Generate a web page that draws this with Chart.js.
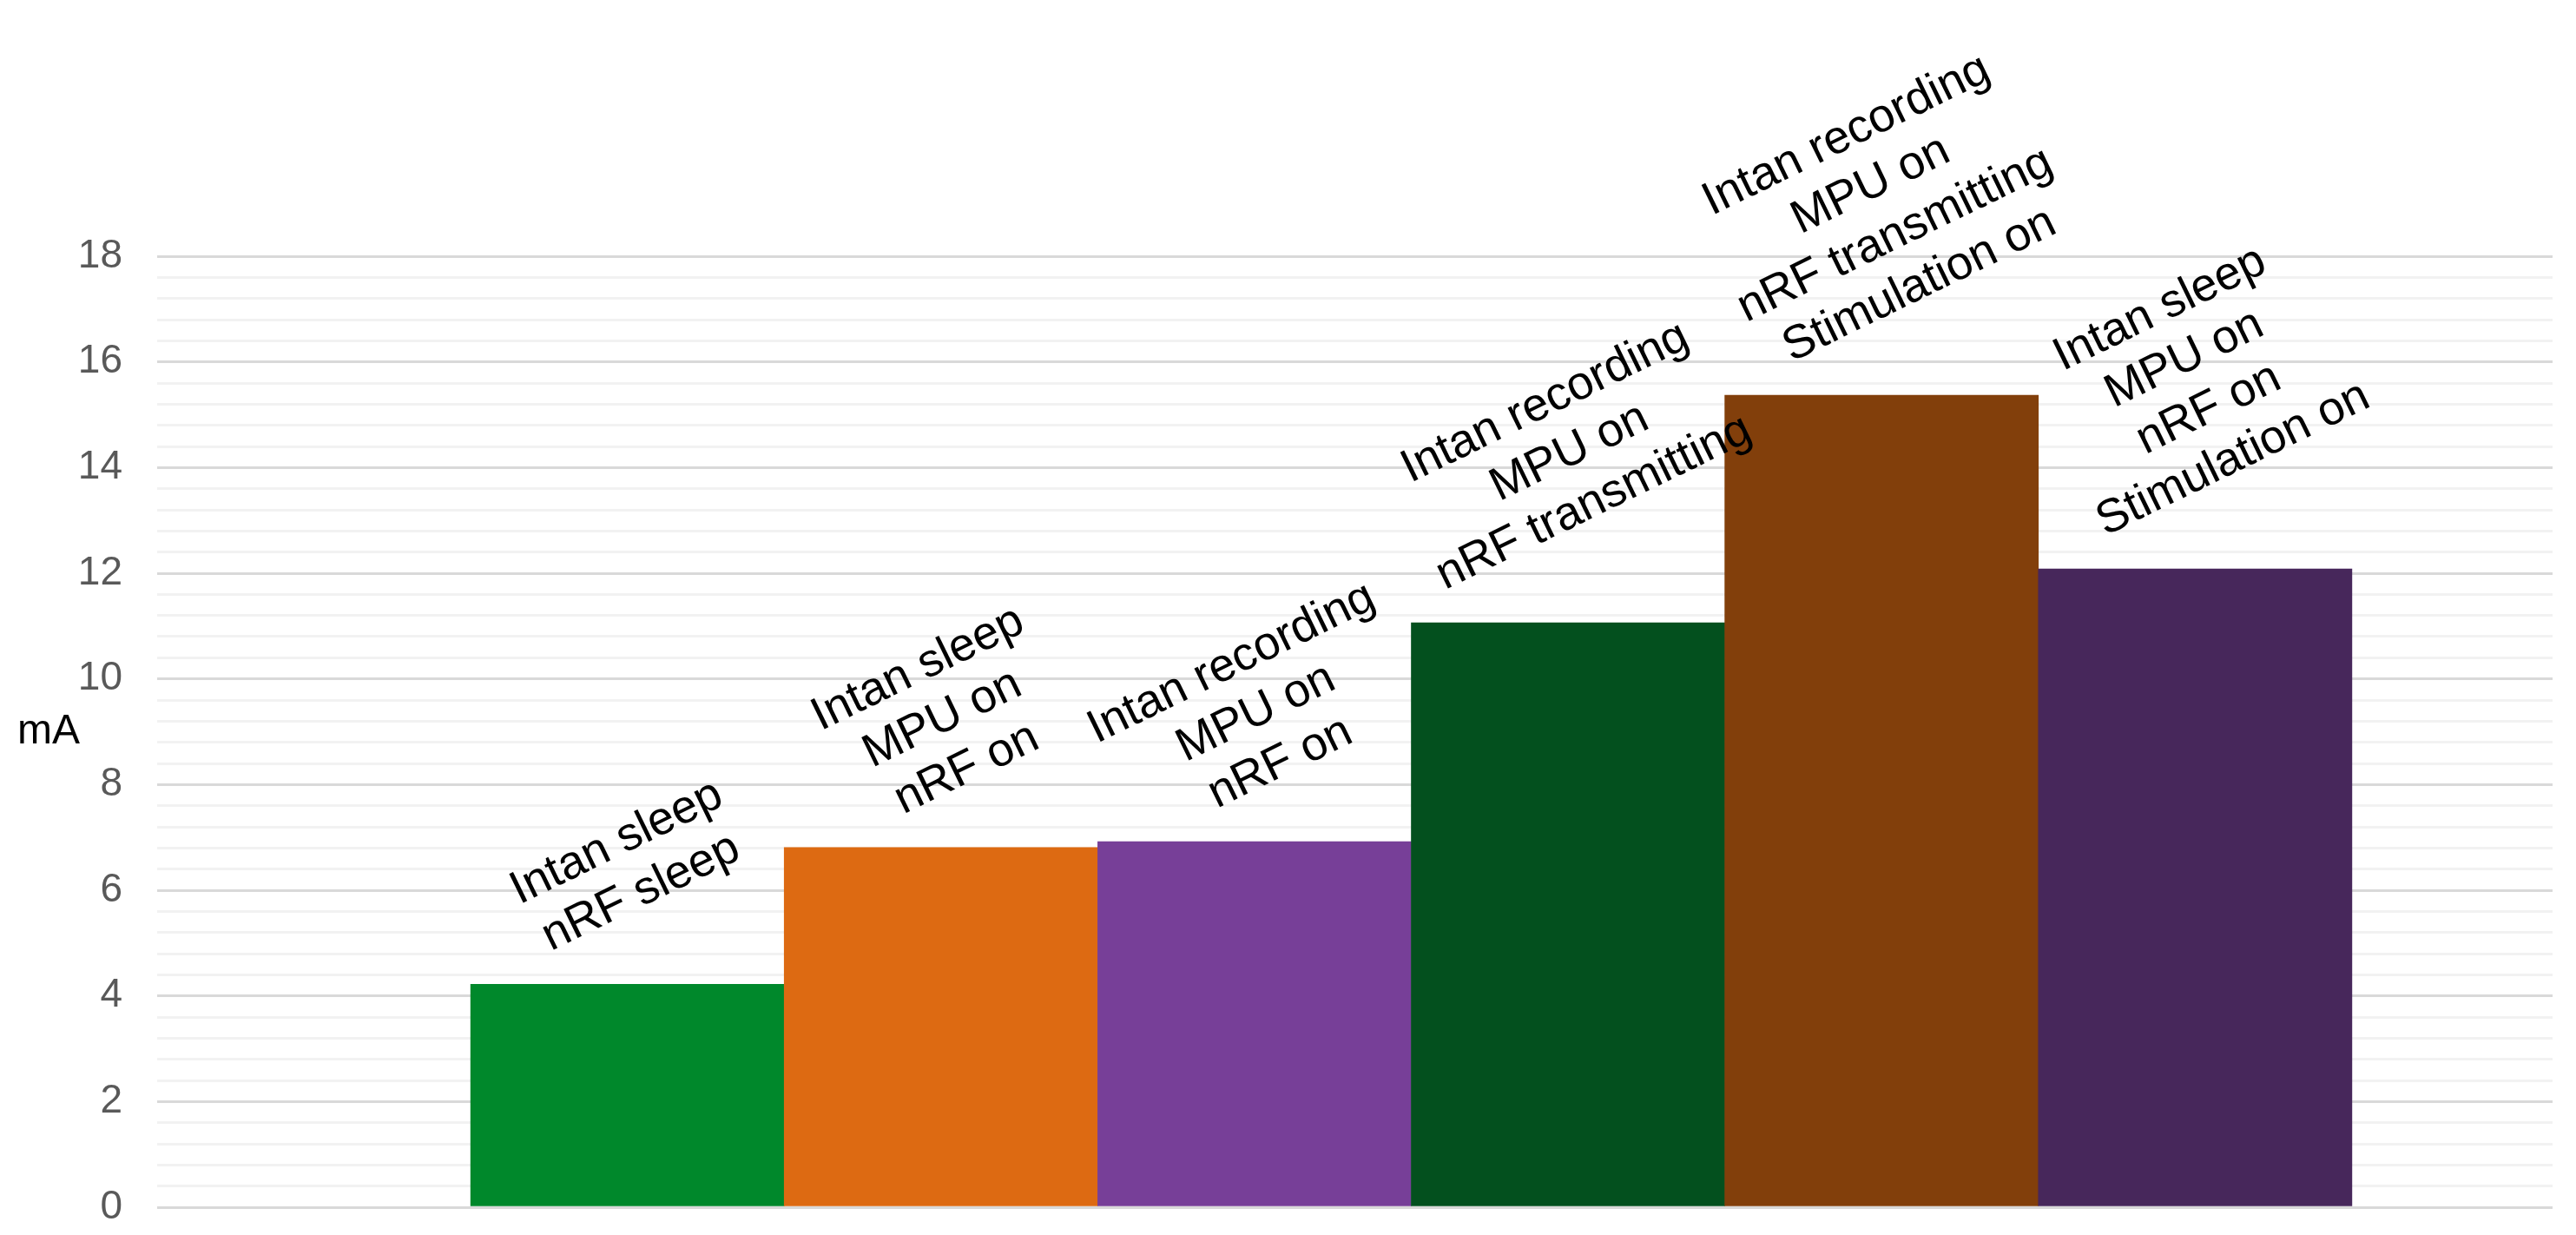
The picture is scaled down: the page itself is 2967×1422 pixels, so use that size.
<!DOCTYPE html>
<html>
<head>
<meta charset="utf-8">
<title>Current consumption</title>
<script src="https://cdn.jsdelivr.net/npm/chart.js@4.4.1/dist/chart.umd.min.js"></script>
<style>
  html, body { margin: 0; padding: 0; background: #fff; }
  #wrap { width: 2967px; height: 1422px; position: relative; }
</style>
</head>
<body>
<div id="wrap"><canvas id="chart"></canvas></div>
<script>
// modos de funcionamiento (una barra por modo)
const categories = [
  ['Intan sleep', 'nRF sleep'],
  ['Intan sleep', 'MPU on', 'nRF on'],
  ['Intan recording', 'MPU on', 'nRF on'],
  ['Intan recording', 'MPU on', 'nRF transmitting'],
  ['Intan recording', 'MPU on', 'nRF transmitting', 'Stimulation on'],
  ['Intan sleep', 'MPU on', 'nRF on', 'Stimulation on'],
];
const currentMA = [4.22, 6.81, 6.92, 11.06, 15.37, 12.08];
const barColors = ['#00882b', '#dd6a12', '#773f98', '#03501e', '#823f0b', '#47275b'];
const yMax = 18;
const yMajorStep = 2;
const yMinorStep = 0.4;
const yTitle = 'mA';

const isMajor = (v) => Math.abs(v / yMajorStep - Math.round(v / yMajorStep)) < 1e-6;

// --- etiquetas giradas encima de cada barra ---
// se apoyan sobre la barra por el punto mas bajo del texto girado
const barLabels = {
  id: 'barLabels',
  afterDatasetsDraw(chart) {
    const { ctx } = chart;
    const meta = chart.getDatasetMeta(0);
    const fontSize = 54;
    const ang = 26 * Math.PI / 180;
    const lh = 64;
    const gap = 38;
    const base = fontSize * 0.35;
    const sin = Math.sin(ang);
    const cos = Math.cos(ang);
    ctx.save();
    ctx.font = fontSize + 'px "Liberation Sans", Arial, sans-serif';
    ctx.fillStyle = '#000';
    ctx.textAlign = 'center';
    ctx.textBaseline = 'alphabetic';
    meta.data.forEach((bar, i) => {
      const lines = categories[i];
      const n = lines.length;
      const yb = lines.map((l, j) => (j - (n - 1) / 2) * lh + base);
      const lowest = Math.max(...lines.map((l, j) => (ctx.measureText(l).width / 2) * sin + yb[j] * cos));
      const cy = bar.y - gap - lowest;
      ctx.save();
      ctx.translate(bar.x, cy);
      ctx.rotate(-ang);
      lines.forEach((l, j) => ctx.fillText(l, 0, yb[j]));
      ctx.restore();
    });
    ctx.restore();
  },
};

// --- titulo del eje Y en horizontal ---
const yAxisTitle = {
  id: 'yAxisTitle',
  afterDraw(chart) {
    const { ctx, chartArea } = chart;
    ctx.save();
    ctx.font = '48px "Liberation Sans", Arial, sans-serif';
    ctx.fillStyle = '#000';
    ctx.textAlign = 'left';
    ctx.textBaseline = 'alphabetic';
    ctx.fillText(yTitle, 20, (chartArea.top + chartArea.bottom) / 2 + 13);
    ctx.restore();
  },
};

new Chart(document.getElementById('chart'), {
  type: 'bar',
  data: {
    datasets: [
      {
        data: currentMA.map((v, i) => ({ x: i + 1.5, y: v })),
        backgroundColor: barColors,
        borderWidth: 0,
        barPercentage: 1,
        categoryPercentage: 1,
      },
    ],
  },
  options: {
    responsive: true,
    maintainAspectRatio: false,
    animation: false,
    devicePixelRatio: 1,
    layout: {
      padding: { top: 295, right: 27, bottom: 32, left: 0 },
    },
    plugins: {
      legend: { display: false },
      tooltip: { enabled: false },
    },
    scales: {
      x: {
        type: 'linear',
        display: false,
        offset: false,
        min: 0,
        max: 7.64,
        ticks: { stepSize: 1 },
        // solo ticks enteros, si no el ancho de barra se reduce
        afterBuildTicks(scale) {
          scale.ticks = scale.ticks.filter((t) => Number.isInteger(t.value));
        },
      },
      y: {
        min: 0,
        max: yMax,
        border: { display: false },
        grid: {
          drawTicks: false,
          lineWidth: 3,
          color: (c) => (isMajor(c.tick.value) ? '#d9d9d9' : '#f2f2f2'),
        },
        ticks: {
          stepSize: yMinorStep,
          autoSkip: false,
          padding: 40,
          color: '#595959',
          font: { family: '"Liberation Sans", Arial, sans-serif', size: 46 },
          callback: (v) => (isMajor(v) ? String(Math.round(v)) : ''),
        },
        afterFit(scale) {
          scale.width = 181;
          // el padding de ticks no debe empujar el area del grafico
          scale.paddingTop = 0;
          scale.paddingBottom = 0;
        },
      },
    },
  },
  plugins: [barLabels, yAxisTitle],
});
</script>
</body>
</html>
